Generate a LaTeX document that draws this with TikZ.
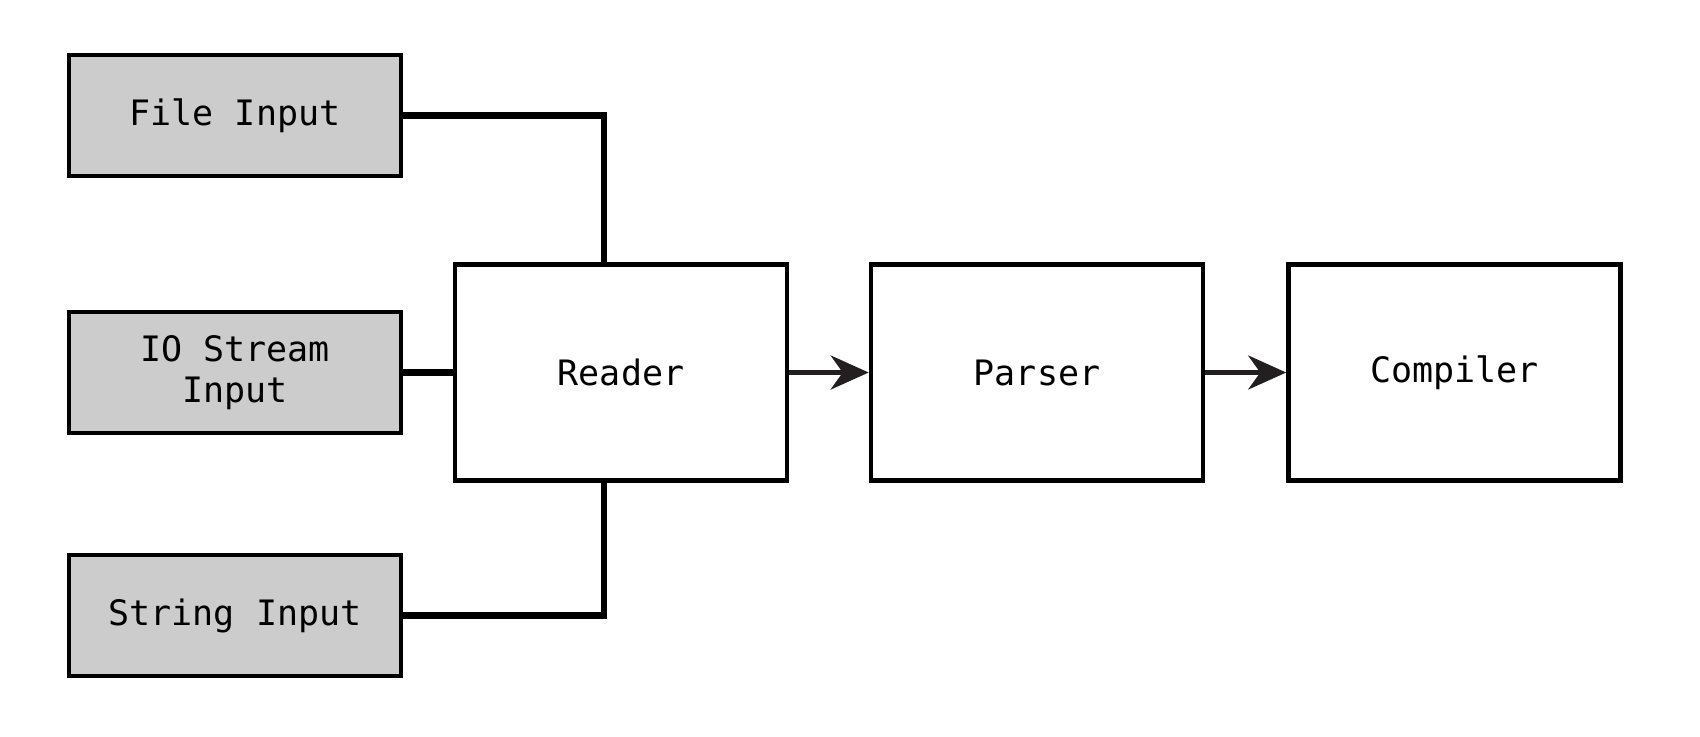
\documentclass[tikz,border=0pt]{standalone}
\usepackage{fontspec}
\setmainfont{DejaVu Sans Mono}
\usetikzlibrary{arrows.meta}
\definecolor{inbox}{HTML}{CCCCCC}
\definecolor{arrowc}{HTML}{231F20}
\begin{document}
\begin{tikzpicture}[x=0.5pt,y=-0.5pt,
  box/.style={draw=black,line width=2.3pt,rectangle,minimum width=166pt,inner sep=0pt,
    font=\fontsize{17.5}{20.5}\selectfont,align=center},
  inbox/.style={box,fill=inbox,minimum height=60.5pt},
  stagebox/.style={box,fill=white,minimum height=108pt},
  link/.style={line width=3.4pt},
  flow/.style={line width=2.3pt,draw=arrowc,-{Stealth[length=19pt,width=17pt,inset=6pt]}}]
\useasboundingbox (0,0) rectangle (1700,736);
\node[inbox] (file) at (235,115.5) {File Input};
\node[inbox] (io) at (235,372.5) {IO Stream\\Input};
\node[inbox] (str) at (235,615.5) {String Input};
\node[stagebox] (reader) at (621,372.5) {Reader};
\node[stagebox] (parser) at (1037,372.5) {Parser};
\node[stagebox] (comp) at (1454.5,372.5) {Compiler};
\draw[link] (file.east) -| ([xshift=-8.5pt]reader.north);
\draw[link] (io.east) -- (reader.west);
\draw[link] (str.east) -| ([xshift=-8.5pt]reader.south);
\draw[flow] (reader.east) -- (parser.west);
\draw[flow] (parser.east) -- (comp.west);
\end{tikzpicture}
\end{document}
